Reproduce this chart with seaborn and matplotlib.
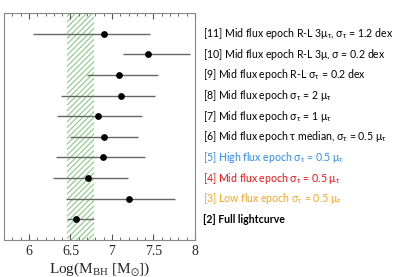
import matplotlib
matplotlib.use("Agg")
import matplotlib.pyplot as plt
import matplotlib.transforms as mtransforms
import numpy as np
import pandas as pd
import seaborn as sns

# run index (y position), best mass and 1-sigma range (log M_BH)
run_id = [11, 10, 9, 8, 7, 6, 5, 4, 3, 2]
log_mass = [6.91, 7.43, 7.09, 7.11, 6.83, 6.91, 6.89, 6.71, 7.20, 6.57]
mass_lo = [6.05, 7.13, 6.70, 6.39, 6.34, 6.50, 6.32, 6.29, 6.45, 6.46]
mass_hi = [7.46, 7.94, 7.55, 7.52, 7.36, 7.31, 7.40, 7.19, 7.76, 6.78]
run_labels = [
    r"[11] Mid flux epoch R-L 3$\mu_\tau$, $\sigma_\tau$ = 1.2 dex",
    r"[10] Mid flux epoch R-L 3$\mu$, $\sigma$ = 0.2 dex",
    r"[9] Mid flux epoch R-L $\sigma_\tau$ = 0.2 dex",
    r"[8] Mid flux epoch $\sigma_\tau$ = 2 $\mu_\tau$",
    r"[7] Mid flux epoch $\sigma_\tau$ = 1 $\mu_\tau$",
    r"[6] Mid flux epoch $\tau$ median, $\sigma_\tau$ = 0.5 $\mu_\tau$",
    r"[5] High flux epoch $\sigma_\tau$ = 0.5 $\mu_\tau$",
    r"[4] Mid flux epoch $\sigma_\tau$ = 0.5 $\mu_\tau$",
    r"[3] Low flux epoch $\sigma_\tau$ = 0.5 $\mu_\tau$",
    "[2] Full lightcurve",
]
label_colors = ["black"] * 6 + ["#2f8cf0", "#f01010", "#f5a623", "black"]
label_weights = ["normal"] * 9 + ["bold"]

# reference mass range (hatched band)
band_lo, band_hi = 6.46, 6.78

df = pd.DataFrame({"run": run_id, "logm": log_mass, "lo": mass_lo, "hi": mass_hi})

sns.set_style("ticks")
plt.rcParams["mathtext.default"] = "regular"
plt.rcParams["hatch.linewidth"] = 0.8

fig = plt.figure(figsize=(4.07, 2.77), dpi=100)
ax = fig.add_axes([0.01, 0.134, 0.469, 0.819])

ax.axvspan(band_lo, band_hi, facecolor="none", edgecolor="#86cc86",
           hatch="//////", linewidth=0, zorder=0)

ax.hlines(df["run"], df["lo"], df["hi"], color="#666666", linewidth=1.0, zorder=2)
sns.scatterplot(data=df, x="logm", y="run", color="black", s=24,
                edgecolor="black", linewidth=0, ax=ax, zorder=3)

ax.set_xlim(5.7, 8.0)
ax.set_ylim(1, 12)
ax.set_yticks([])
ax.set_xticks([6, 6.5, 7, 7.5, 8])
ax.set_xticklabels(["6", "6.5", "7", "7.5", "8"], family="Liberation Serif", fontsize=10)
ax.set_xticks(np.arange(5.7, 8.01, 0.1), minor=True)
ax.tick_params(axis="x", which="both", direction="in", top=True, bottom=True,
               color="#555555")
ax.tick_params(axis="x", which="major", length=4)
ax.tick_params(axis="x", which="minor", length=2)
for sp in ax.spines.values():
    sp.set_visible(True)
    sp.set_color("#888888")
    sp.set_linewidth(0.8)

ax.set_xlabel(r"Log(M$_{BH}$ [M$_{\odot}$])", family="Liberation Serif",
              fontsize=11, labelpad=2)
ax.set_ylabel("")

trans = mtransforms.blended_transform_factory(ax.transAxes, ax.transData)
for y, txt, c, w in zip(run_id, run_labels, label_colors, label_weights):
    ax.text(1.042, y, txt, transform=trans, color=c, fontweight=w,
            fontsize=7.6, family="Lato", va="center", ha="left")

fig.savefig("out.png", dpi=100)
